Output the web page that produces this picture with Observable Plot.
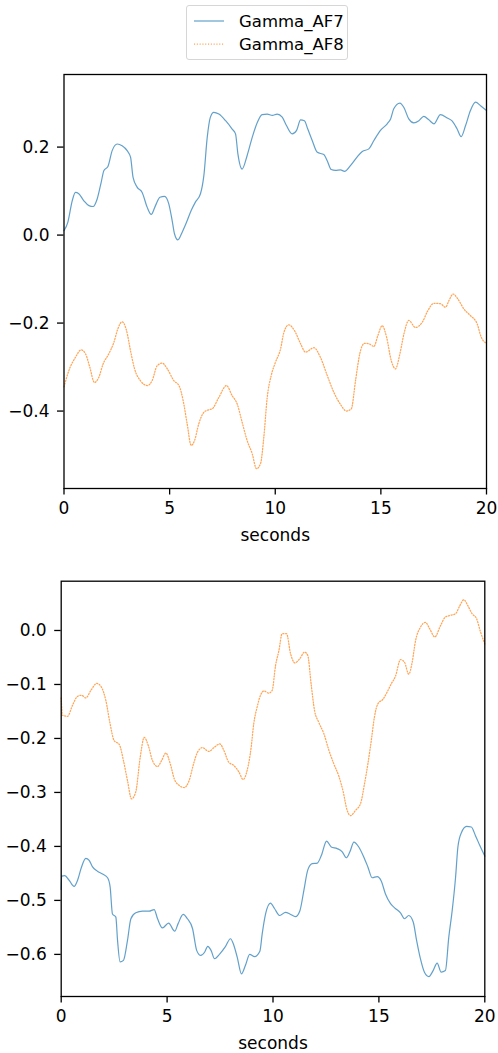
<!DOCTYPE html>
<html>
<head>
<meta charset="utf-8">
<script src="https://cdn.jsdelivr.net/npm/d3@7"></script>
<script src="https://cdn.jsdelivr.net/npm/@observablehq/plot@0.6"></script>
<style>
  html, body { margin: 0; padding: 0; background: #fff; }
  #wrap { position: relative; width: 498px; height: 1053px; font-family: "DejaVu Sans", sans-serif; }
  #legend { position: absolute; left: 186px; top: 5px; width: 162px; height: 55px; border: 1px solid #d6d6d6; border-radius: 3px; background: #fff; box-sizing: border-box; }
  .row { position: absolute; left: 6px; height: 20px; display: flex; align-items: center; font-size: 16.5px; color: #000; }
  .row svg { margin-right: 14px; }
  .plot { position: absolute; left: 0; }
</style>
</head>
<body>
<div id="wrap">
  <div id="legend"></div>
</div>
<script>
const seriesNames = ["Gamma_AF7", "Gamma_AF8"];
const seriesColors = ["#1f77b4", "#ff7f0e"];

const xTicks = [0, 5, 10, 15, 20];
const topYTicks = [-0.4, -0.2, 0.0, 0.2];
const bottomYTicks = [-0.6, -0.5, -0.4, -0.3, -0.2, -0.1, 0.0];

// Top panel, Gamma_AF7
const topAF7T = [0, 0.18, 0.39, 0.54, 0.70, 0.94, 1.18, 1.38, 1.57, 1.76, 1.89, 2.08, 2.28, 2.52, 2.75, 2.99, 3.15, 3.27, 3.46, 3.70, 3.94, 4.13, 4.33, 4.54, 4.76, 4.96, 5.12, 5.23, 5.39, 5.59, 5.80, 6.02, 6.22, 6.46, 6.62, 6.78, 6.93, 7.09, 7.33, 7.65, 7.96, 8.12, 8.23, 8.43, 8.67, 8.91, 9.15, 9.38, 9.62, 9.86, 10.09, 10.33, 10.53, 10.80, 11.01, 11.20, 11.38, 11.54, 11.75, 11.99, 12.30, 12.46, 12.65, 12.85, 13.09, 13.28, 13.56, 13.88, 14.12, 14.43, 14.67, 14.98, 15.30, 15.46, 15.61, 15.90, 16.09, 16.32, 16.56, 16.80, 17.03, 17.27, 17.51, 17.82, 18.14, 18.38, 18.61, 18.80, 19.01, 19.24, 19.48, 19.72, 20];
const topAF7V = [0.01, 0.029, 0.078, 0.097, 0.094, 0.078, 0.067, 0.065, 0.082, 0.12, 0.147, 0.156, 0.192, 0.207, 0.203, 0.192, 0.177, 0.131, 0.109, 0.097, 0.063, 0.047, 0.067, 0.086, 0.088, 0.071, 0.033, 0.003, -0.011, 0.006, 0.029, 0.056, 0.075, 0.094, 0.135, 0.222, 0.268, 0.279, 0.275, 0.260, 0.241, 0.23, 0.185, 0.150, 0.181, 0.222, 0.256, 0.274, 0.275, 0.272, 0.275, 0.268, 0.249, 0.23, 0.238, 0.262, 0.26, 0.241, 0.215, 0.188, 0.183, 0.169, 0.149, 0.147, 0.148, 0.145, 0.158, 0.178, 0.19, 0.196, 0.215, 0.238, 0.253, 0.264, 0.287, 0.30, 0.29, 0.264, 0.255, 0.26, 0.27, 0.262, 0.253, 0.274, 0.266, 0.259, 0.241, 0.224, 0.249, 0.283, 0.302, 0.294, 0.283];

// Top panel, Gamma_AF8
const topAF8T = [0, 0.23, 0.54, 0.81, 1.02, 1.22, 1.44, 1.65, 1.85, 2.12, 2.36, 2.55, 2.75, 2.96, 3.15, 3.34, 3.62, 3.94, 4.17, 4.41, 4.65, 4.89, 5.20, 5.44, 5.64, 5.83, 6.02, 6.18, 6.38, 6.62, 6.86, 7.01, 7.33, 7.69, 7.96, 8.20, 8.43, 8.67, 8.91, 9.11, 9.30, 9.46, 9.62, 9.81, 10.01, 10.25, 10.41, 10.64, 10.91, 11.20, 11.43, 11.83, 12.14, 12.46, 12.77, 13.09, 13.37, 13.60, 13.80, 14.00, 14.22, 14.43, 14.67, 14.86, 15.06, 15.27, 15.49, 15.69, 15.90, 16.09, 16.32, 16.64, 16.96, 17.22, 17.51, 17.82, 18.06, 18.22, 18.42, 18.64, 18.93, 19.24, 19.56, 19.75, 20];
const topAF8V = [-0.345, -0.308, -0.278, -0.261, -0.27, -0.30, -0.335, -0.323, -0.293, -0.27, -0.244, -0.213, -0.197, -0.217, -0.263, -0.304, -0.331, -0.342, -0.331, -0.297, -0.291, -0.304, -0.331, -0.342, -0.376, -0.429, -0.478, -0.467, -0.429, -0.403, -0.397, -0.395, -0.369, -0.342, -0.365, -0.384, -0.425, -0.467, -0.497, -0.531, -0.52, -0.459, -0.369, -0.319, -0.289, -0.259, -0.221, -0.204, -0.217, -0.247, -0.266, -0.256, -0.278, -0.319, -0.357, -0.385, -0.40, -0.395, -0.331, -0.27, -0.246, -0.247, -0.253, -0.228, -0.206, -0.232, -0.285, -0.304, -0.27, -0.225, -0.194, -0.21, -0.198, -0.172, -0.155, -0.156, -0.164, -0.149, -0.134, -0.145, -0.168, -0.183, -0.202, -0.232, -0.246];

// Bottom panel, Gamma_AF7
const botAF7T = [0, 0.02, 0.17, 0.38, 0.61, 0.77, 0.96, 1.16, 1.32, 1.48, 1.71, 1.95, 2.19, 2.31, 2.42, 2.58, 2.66, 2.78, 2.94, 3.13, 3.29, 3.52, 3.84, 4.15, 4.39, 4.55, 4.78, 5.07, 5.36, 5.52, 5.76, 5.96, 6.20, 6.40, 6.59, 6.77, 6.92, 7.08, 7.24, 7.49, 7.76, 7.99, 8.15, 8.31, 8.51, 8.70, 8.90, 9.13, 9.38, 9.49, 9.65, 9.88, 10.07, 10.32, 10.59, 10.83, 11.06, 11.27, 11.46, 11.64, 11.85, 12.09, 12.28, 12.53, 12.75, 13.03, 13.27, 13.46, 13.63, 13.82, 14.05, 14.29, 14.48, 14.68, 14.92, 15.11, 15.31, 15.55, 15.78, 16.02, 16.21, 16.41, 16.62, 16.78, 16.96, 17.15, 17.36, 17.56, 17.75, 17.94, 18.14, 18.30, 18.46, 18.62, 18.73, 18.89, 19.14, 19.36, 19.56, 19.76, 20];
const botAF7V = [-0.48, -0.455, -0.454, -0.463, -0.474, -0.463, -0.438, -0.422, -0.426, -0.438, -0.446, -0.451, -0.458, -0.475, -0.525, -0.531, -0.574, -0.614, -0.611, -0.574, -0.534, -0.523, -0.520, -0.520, -0.517, -0.534, -0.551, -0.542, -0.557, -0.543, -0.526, -0.534, -0.552, -0.593, -0.602, -0.596, -0.585, -0.593, -0.608, -0.599, -0.585, -0.571, -0.583, -0.605, -0.636, -0.620, -0.600, -0.604, -0.594, -0.562, -0.525, -0.505, -0.515, -0.528, -0.522, -0.526, -0.530, -0.519, -0.481, -0.444, -0.432, -0.431, -0.417, -0.390, -0.401, -0.404, -0.410, -0.421, -0.410, -0.392, -0.401, -0.420, -0.438, -0.458, -0.456, -0.464, -0.488, -0.506, -0.515, -0.523, -0.534, -0.528, -0.540, -0.574, -0.608, -0.633, -0.641, -0.630, -0.616, -0.633, -0.630, -0.568, -0.519, -0.457, -0.401, -0.375, -0.363, -0.364, -0.380, -0.398, -0.418];

// Bottom panel, Gamma_AF8
const botAF8T = [0, 0.06, 0.30, 0.53, 0.77, 0.96, 1.16, 1.40, 1.68, 1.90, 2.11, 2.31, 2.50, 2.74, 2.94, 3.13, 3.32, 3.52, 3.73, 3.92, 4.11, 4.31, 4.55, 4.74, 4.94, 5.15, 5.34, 5.57, 5.81, 6.04, 6.25, 6.44, 6.67, 6.97, 7.24, 7.49, 7.68, 7.91, 8.15, 8.39, 8.59, 8.78, 8.97, 9.09, 9.25, 9.41, 9.57, 9.80, 9.96, 10.12, 10.28, 10.43, 10.64, 10.83, 11.03, 11.27, 11.49, 11.64, 11.80, 11.96, 12.16, 12.40, 12.64, 12.87, 13.11, 13.31, 13.50, 13.66, 13.90, 14.13, 14.32, 14.48, 14.64, 14.79, 14.95, 15.20, 15.39, 15.58, 15.78, 16.02, 16.21, 16.41, 16.57, 16.73, 16.96, 17.20, 17.40, 17.64, 17.91, 18.14, 18.38, 18.62, 18.82, 19.01, 19.20, 19.40, 19.61, 19.80, 20];
const botAF8V = [-0.125, -0.157, -0.159, -0.139, -0.122, -0.120, -0.125, -0.111, -0.098, -0.105, -0.130, -0.173, -0.204, -0.211, -0.241, -0.278, -0.312, -0.299, -0.235, -0.198, -0.213, -0.241, -0.252, -0.241, -0.227, -0.247, -0.275, -0.287, -0.291, -0.278, -0.247, -0.225, -0.217, -0.224, -0.216, -0.210, -0.222, -0.244, -0.25, -0.262, -0.276, -0.259, -0.216, -0.173, -0.142, -0.120, -0.112, -0.116, -0.111, -0.065, -0.037, -0.006, -0.006, -0.043, -0.060, -0.052, -0.040, -0.046, -0.099, -0.148, -0.170, -0.191, -0.222, -0.247, -0.27, -0.298, -0.333, -0.343, -0.333, -0.321, -0.284, -0.247, -0.204, -0.160, -0.136, -0.127, -0.114, -0.099, -0.085, -0.054, -0.059, -0.081, -0.059, -0.019, 0.006, 0.015, 0.003, -0.012, 0.009, 0.025, 0.028, 0.031, 0.046, 0.057, 0.046, 0.031, 0.022, -0.003, -0.025];

const zip = (ts, vs) => ts.map((t, i) => ({t, v: vs[i]}));

const fmt = d3.format(".1f");
const FONT = "DejaVu Sans, sans-serif";
const FS = "17px";
const af8Dash = "1.1,1.7";

function panel({af7, af8, yDomain, yTicks, height, mt, mb, ml, mr}) {
  return Plot.plot({
    width: 498,
    height,
    marginTop: mt,
    marginBottom: mb,
    marginLeft: ml,
    marginRight: mr,
    style: {fontFamily: FONT, fontSize: FS, color: "#000", background: "#fff", overflow: "visible"},
    x: {domain: [0, 20]},
    y: {domain: yDomain},
    marks: [
      Plot.line(af7, {x: "t", y: "v", stroke: seriesColors[0], strokeWidth: 1.2, strokeOpacity: 0.7, curve: "monotone-x"}),
      Plot.line(af8, {x: "t", y: "v", stroke: seriesColors[1], strokeWidth: 1.25, strokeOpacity: 0.7, strokeDasharray: af8Dash, curve: "monotone-x"}),
      Plot.frame({stroke: "#000", strokeWidth: 1.3}),
      Plot.axisY({ticks: yTicks, tickFormat: fmt, tickSize: 6.5, tickPadding: 8, strokeWidth: 1.3, label: null, fontSize: FS}),
      Plot.axisX({ticks: xTicks, tickFormat: d3.format("d"), tickSize: 6.5, tickPadding: 7, strokeWidth: 1.3, label: "seconds", labelAnchor: "center", labelArrow: "none", labelOffset: 52, fontSize: FS})
    ]
  });
}

const wrap = document.getElementById("wrap");

const p1 = panel({
  af7: zip(topAF7T, topAF7V), af8: zip(topAF8T, topAF8V),
  yDomain: [-0.576, 0.365], yTicks: topYTicks,
  height: 486, mt: 10, mb: 62, ml: 63.5, mr: 12
});
p1.classList.add("plot");
p1.style.top = "64px";
wrap.appendChild(p1);

const p2 = panel({
  af7: zip(botAF7T, botAF7V), af8: zip(botAF8T, botAF8V),
  yDomain: [-0.678, 0.0913], yTicks: bottomYTicks,
  height: 493, mt: 20.7, mb: 57, ml: 60.7, mr: 13.7
});
p2.classList.add("plot");
p2.style.top = "560px";
wrap.appendChild(p2);

// legend
const legend = document.getElementById("legend");
seriesNames.forEach((name, i) => {
  const row = document.createElement("div");
  row.className = "row";
  row.style.top = (i === 0 ? 5 : 28) + "px";
  const s = d3.create("svg").attr("width", 32).attr("height", 10);
  s.append("line").attr("x1", 1).attr("x2", 31).attr("y1", 5).attr("y2", 5)
    .attr("stroke", seriesColors[i]).attr("stroke-width", i === 0 ? 1.2 : 1.25)
    .attr("stroke-opacity", 0.7)
    .attr("stroke-dasharray", i === 0 ? null : af8Dash);
  row.appendChild(s.node());
  const tx = document.createElement("span");
  tx.textContent = name;
  row.appendChild(tx);
  legend.appendChild(row);
});
</script>
</body>
</html>
